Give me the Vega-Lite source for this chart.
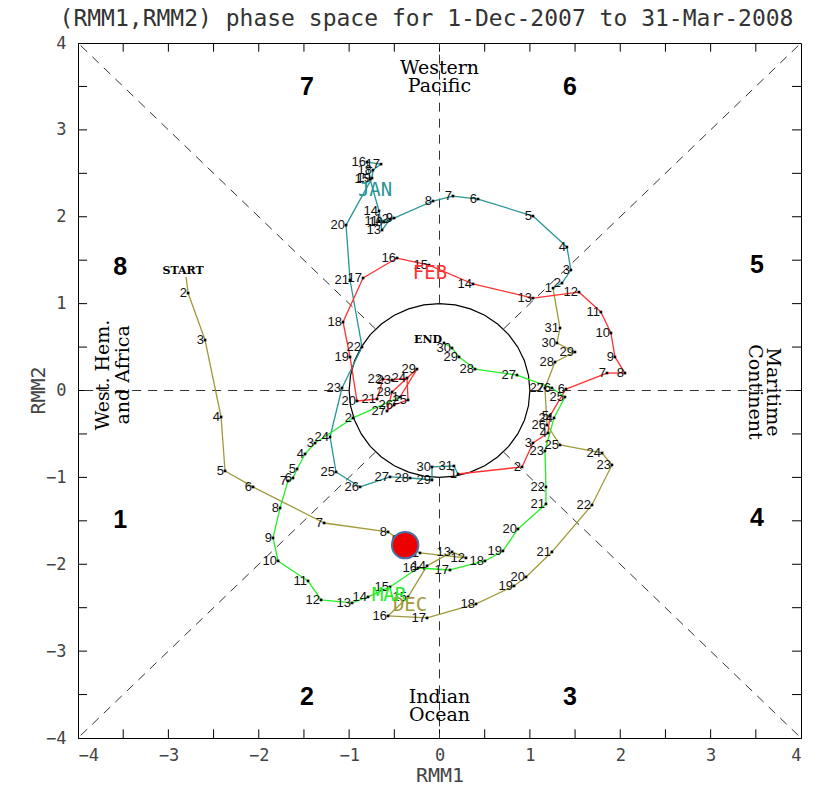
{
  "$schema": "https://vega.github.io/schema/vega-lite/v6.json",
  "width": 723,
  "height": 695,
  "autosize": "none",
  "padding": {"left": 78, "top": 43, "right": 17, "bottom": 51},
  "background": "white",
  "config": {"view": {"stroke": "black", "strokeWidth": 1}},
  "title": {"text": "(RMM1,RMM2) phase space for  1-Dec-2007 to 31-Mar-2008", "font": "DejaVu Sans Mono", "fontSize": 23, "fontWeight": "normal", "color": "#333333", "offset": 3, "dx": -13},
  "datasets": {
    "traj": [
      {"t":1,"m":"DEC","lab":"START","x":-2.804,"y":1.306},
      {"t":2,"m":"DEC","lab":"2","x":-2.782,"y":1.122},
      {"t":3,"m":"DEC","lab":"3","x":-2.594,"y":0.581},
      {"t":4,"m":"DEC","lab":"4","x":-2.417,"y":-0.305},
      {"t":5,"m":"DEC","lab":"5","x":-2.373,"y":-0.926},
      {"t":6,"m":"DEC","lab":"6","x":-2.063,"y":-1.110},
      {"t":7,"m":"DEC","lab":"7","x":-1.277,"y":-1.525},
      {"t":8,"m":"DEC","lab":"8","x":-0.570,"y":-1.628},
      {"t":9,"m":"DEC","lab":"9","x":-0.437,"y":-1.720},
      {"t":10,"m":"DEC","lab":"10","x":-0.326,"y":-1.812},
      {"t":11,"m":"DEC","lab":"11","x":-0.216,"y":-1.870},
      {"t":12,"m":"DEC","lab":"12","x":0.293,"y":-1.927},
      {"t":13,"m":"DEC","lab":"13","x":0.138,"y":-1.858},
      {"t":14,"m":"DEC","lab":"14","x":-0.138,"y":-2.019},
      {"t":15,"m":"DEC","lab":"15","x":-0.348,"y":-2.376},
      {"t":16,"m":"DEC","lab":"16","x":-0.570,"y":-2.595},
      {"t":17,"m":"DEC","lab":"17","x":-0.138,"y":-2.618},
      {"t":18,"m":"DEC","lab":"18","x":0.404,"y":-2.457},
      {"t":19,"m":"DEC","lab":"19","x":0.824,"y":-2.250},
      {"t":20,"m":"DEC","lab":"20","x":0.957,"y":-2.146},
      {"t":21,"m":"DEC","lab":"21","x":1.244,"y":-1.858},
      {"t":22,"m":"DEC","lab":"22","x":1.687,"y":-1.318},
      {"t":23,"m":"DEC","lab":"23","x":1.908,"y":-0.857},
      {"t":24,"m":"DEC","lab":"24","x":1.798,"y":-0.719},
      {"t":25,"m":"DEC","lab":"25","x":1.333,"y":-0.627},
      {"t":26,"m":"DEC","lab":"26","x":1.189,"y":-0.397},
      {"t":27,"m":"DEC","lab":"27","x":1.167,"y":0.029},
      {"t":28,"m":"DEC","lab":"28","x":1.278,"y":0.328},
      {"t":29,"m":"DEC","lab":"29","x":1.499,"y":0.443},
      {"t":30,"m":"DEC","lab":"30","x":1.300,"y":0.547},
      {"t":31,"m":"DEC","lab":"31","x":1.333,"y":0.719},
      {"t":32,"m":"JAN","lab":"1","x":1.256,"y":1.179},
      {"t":33,"m":"JAN","lab":"2","x":1.355,"y":1.237},
      {"t":34,"m":"JAN","lab":"3","x":1.454,"y":1.387},
      {"t":35,"m":"JAN","lab":"4","x":1.410,"y":1.651},
      {"t":36,"m":"JAN","lab":"5","x":1.034,"y":2.008},
      {"t":37,"m":"JAN","lab":"6","x":0.426,"y":2.204},
      {"t":38,"m":"JAN","lab":"7","x":0.149,"y":2.238},
      {"t":39,"m":"JAN","lab":"8","x":-0.072,"y":2.181},
      {"t":40,"m":"JAN","lab":"9","x":-0.503,"y":1.985},
      {"t":41,"m":"JAN","lab":"10","x":-0.614,"y":1.939},
      {"t":42,"m":"JAN","lab":"11","x":-0.669,"y":1.950},
      {"t":43,"m":"JAN","lab":"12","x":-0.548,"y":1.973},
      {"t":44,"m":"JAN","lab":"13","x":-0.636,"y":1.847},
      {"t":45,"m":"JAN","lab":"14","x":-0.669,"y":2.066},
      {"t":46,"m":"JAN","lab":"15","x":-0.769,"y":2.434},
      {"t":47,"m":"JAN","lab":"16","x":-0.802,"y":2.629},
      {"t":48,"m":"JAN","lab":"17","x":-0.647,"y":2.606},
      {"t":49,"m":"JAN","lab":"18","x":-0.736,"y":2.537},
      {"t":50,"m":"JAN","lab":"19","x":-0.747,"y":2.445},
      {"t":51,"m":"JAN","lab":"20","x":-1.034,"y":1.904},
      {"t":52,"m":"JAN","lab":"21","x":-0.990,"y":1.272},
      {"t":53,"m":"JAN","lab":"22","x":-0.857,"y":0.501},
      {"t":54,"m":"JAN","lab":"23","x":-1.079,"y":0.029},
      {"t":55,"m":"JAN","lab":"24","x":-1.211,"y":-0.535},
      {"t":56,"m":"JAN","lab":"25","x":-1.145,"y":-0.938},
      {"t":57,"m":"JAN","lab":"26","x":-0.879,"y":-1.110},
      {"t":58,"m":"JAN","lab":"27","x":-0.548,"y":-0.995},
      {"t":59,"m":"JAN","lab":"28","x":-0.326,"y":-1.007},
      {"t":60,"m":"JAN","lab":"29","x":-0.083,"y":-1.030},
      {"t":61,"m":"JAN","lab":"30","x":-0.083,"y":-0.880},
      {"t":62,"m":"JAN","lab":"31","x":0.160,"y":-0.869},
      {"t":63,"m":"FEB","lab":"1","x":0.205,"y":-0.961},
      {"t":64,"m":"FEB","lab":"2","x":0.913,"y":-0.880},
      {"t":65,"m":"FEB","lab":"3","x":1.034,"y":-0.604},
      {"t":66,"m":"FEB","lab":"4","x":1.200,"y":-0.489},
      {"t":67,"m":"FEB","lab":"5","x":1.222,"y":-0.293},
      {"t":68,"m":"FEB","lab":"6","x":1.399,"y":0.017},
      {"t":69,"m":"FEB","lab":"7","x":1.853,"y":0.201},
      {"t":70,"m":"FEB","lab":"8","x":2.052,"y":0.201},
      {"t":71,"m":"FEB","lab":"9","x":1.941,"y":0.386},
      {"t":72,"m":"FEB","lab":"10","x":1.897,"y":0.662},
      {"t":73,"m":"FEB","lab":"11","x":1.786,"y":0.903},
      {"t":74,"m":"FEB","lab":"12","x":1.543,"y":1.133},
      {"t":75,"m":"FEB","lab":"13","x":1.034,"y":1.064},
      {"t":76,"m":"FEB","lab":"14","x":0.371,"y":1.226},
      {"t":77,"m":"FEB","lab":"15","x":-0.116,"y":1.444},
      {"t":78,"m":"FEB","lab":"16","x":-0.470,"y":1.525},
      {"t":79,"m":"FEB","lab":"17","x":-0.846,"y":1.295},
      {"t":80,"m":"FEB","lab":"18","x":-1.067,"y":0.788},
      {"t":81,"m":"FEB","lab":"19","x":-0.990,"y":0.386},
      {"t":82,"m":"FEB","lab":"20","x":-0.913,"y":-0.121},
      {"t":83,"m":"FEB","lab":"21","x":-0.691,"y":-0.098},
      {"t":84,"m":"FEB","lab":"22","x":-0.625,"y":0.132},
      {"t":85,"m":"FEB","lab":"23","x":-0.525,"y":0.121},
      {"t":86,"m":"FEB","lab":"24","x":-0.360,"y":0.144},
      {"t":87,"m":"FEB","lab":"25","x":-0.348,"y":-0.109},
      {"t":88,"m":"FEB","lab":"26","x":-0.503,"y":-0.167},
      {"t":89,"m":"FEB","lab":"27","x":-0.581,"y":-0.236},
      {"t":90,"m":"FEB","lab":"28","x":-0.525,"y":-0.017},
      {"t":91,"m":"FEB","lab":"29","x":-0.249,"y":0.247},
      {"t":92,"m":"MAR","lab":"1","x":-0.437,"y":-0.075},
      {"t":93,"m":"MAR","lab":"2","x":-0.957,"y":-0.316},
      {"t":94,"m":"MAR","lab":"3","x":-1.377,"y":-0.604},
      {"t":95,"m":"MAR","lab":"4","x":-1.488,"y":-0.731},
      {"t":96,"m":"MAR","lab":"5","x":-1.576,"y":-0.903},
      {"t":97,"m":"MAR","lab":"6","x":-1.621,"y":-1.007},
      {"t":98,"m":"MAR","lab":"7","x":-1.676,"y":-1.041},
      {"t":99,"m":"MAR","lab":"8","x":-1.764,"y":-1.352},
      {"t":100,"m":"MAR","lab":"9","x":-1.842,"y":-1.697},
      {"t":101,"m":"MAR","lab":"10","x":-1.786,"y":-1.962},
      {"t":102,"m":"MAR","lab":"11","x":-1.455,"y":-2.192},
      {"t":103,"m":"MAR","lab":"12","x":-1.311,"y":-2.411},
      {"t":104,"m":"MAR","lab":"13","x":-0.968,"y":-2.445},
      {"t":105,"m":"MAR","lab":"14","x":-0.791,"y":-2.376},
      {"t":106,"m":"MAR","lab":"15","x":-0.548,"y":-2.261},
      {"t":107,"m":"MAR","lab":"16","x":-0.238,"y":-2.043},
      {"t":108,"m":"MAR","lab":"17","x":0.116,"y":-2.066},
      {"t":109,"m":"MAR","lab":"18","x":0.503,"y":-1.962},
      {"t":110,"m":"MAR","lab":"19","x":0.702,"y":-1.847},
      {"t":111,"m":"MAR","lab":"20","x":0.868,"y":-1.594},
      {"t":112,"m":"MAR","lab":"21","x":1.178,"y":-1.306},
      {"t":113,"m":"MAR","lab":"22","x":1.178,"y":-1.110},
      {"t":114,"m":"MAR","lab":"23","x":1.167,"y":-0.696},
      {"t":115,"m":"MAR","lab":"24","x":1.267,"y":-0.316},
      {"t":116,"m":"MAR","lab":"25","x":1.388,"y":-0.075},
      {"t":117,"m":"MAR","lab":"26","x":1.244,"y":0.029},
      {"t":118,"m":"MAR","lab":"27","x":0.857,"y":0.178},
      {"t":119,"m":"MAR","lab":"28","x":0.393,"y":0.247},
      {"t":120,"m":"MAR","lab":"29","x":0.216,"y":0.386},
      {"t":121,"m":"MAR","lab":"30","x":0.138,"y":0.489},
      {"t":122,"m":"MAR","lab":"END","x":0.050,"y":0.547}
    ],
    "circle": [
      {"a":0,"x":1,"y":0},{"a":10,"x":0.9848,"y":0.1736},{"a":20,"x":0.9397,"y":0.342},{"a":30,"x":0.866,"y":0.5},
      {"a":40,"x":0.766,"y":0.6428},{"a":50,"x":0.6428,"y":0.766},{"a":60,"x":0.5,"y":0.866},{"a":70,"x":0.342,"y":0.9397},
      {"a":80,"x":0.1736,"y":0.9848},{"a":90,"x":0,"y":1},{"a":100,"x":-0.1736,"y":0.9848},{"a":110,"x":-0.342,"y":0.9397},
      {"a":120,"x":-0.5,"y":0.866},{"a":130,"x":-0.6428,"y":0.766},{"a":140,"x":-0.766,"y":0.6428},{"a":150,"x":-0.866,"y":0.5},
      {"a":160,"x":-0.9397,"y":0.342},{"a":170,"x":-0.9848,"y":0.1736},{"a":180,"x":-1,"y":0},{"a":190,"x":-0.9848,"y":-0.1736},
      {"a":200,"x":-0.9397,"y":-0.342},{"a":210,"x":-0.866,"y":-0.5},{"a":220,"x":-0.766,"y":-0.6428},{"a":230,"x":-0.6428,"y":-0.766},
      {"a":240,"x":-0.5,"y":-0.866},{"a":250,"x":-0.342,"y":-0.9397},{"a":260,"x":-0.1736,"y":-0.9848},{"a":270,"x":0,"y":-1},
      {"a":280,"x":0.1736,"y":-0.9848},{"a":290,"x":0.342,"y":-0.9397},{"a":300,"x":0.5,"y":-0.866},{"a":310,"x":0.6428,"y":-0.766},
      {"a":320,"x":0.766,"y":-0.6428},{"a":330,"x":0.866,"y":-0.5},{"a":340,"x":0.9397,"y":-0.342},{"a":350,"x":0.9848,"y":-0.1736},
      {"a":360,"x":1,"y":0}
    ],
    "guides": [
      {"x":0.7071,"y":0.7071,"x2":4,"y2":4},{"x":-0.7071,"y":0.7071,"x2":-4,"y2":4},
      {"x":0.7071,"y":-0.7071,"x2":4,"y2":-4},{"x":-0.7071,"y":-0.7071,"x2":-4,"y2":-4},
      {"x":1,"y":0,"x2":4,"y2":0},{"x":-1,"y":0,"x2":-4,"y2":0},
      {"x":0,"y":1,"x2":0,"y2":4},{"x":0,"y":-1,"x2":0,"y2":-4}
    ],
    "ticks": [
      {"v":-3.5},{"v":-3},{"v":-2.5},{"v":-2},{"v":-1.5},{"v":-1},{"v":-0.5},{"v":0},
      {"v":0.5},{"v":1},{"v":1.5},{"v":2},{"v":2.5},{"v":3},{"v":3.5}
    ],
    "phases": [
      {"p":"1","x":-3.534,"y":-1.49},{"p":"2","x":-1.466,"y":-3.527},{"p":"3","x":1.444,"y":-3.527},{"p":"4","x":3.512,"y":-1.467},
      {"p":"5","x":3.512,"y":1.444},{"p":"6","x":1.444,"y":3.49},{"p":"7","x":-1.466,"y":3.49},{"p":"8","x":-3.534,"y":1.421}
    ],
    "regions": [
      {"txt":"Western","x":0,"y":3.71,"rot":"h"},{"txt":"Pacific","x":0,"y":3.5,"rot":"h"},
      {"txt":"Indian","x":0,"y":-3.527,"rot":"h"},{"txt":"Ocean","x":0,"y":-3.734,"rot":"h"},
      {"txt":"West. Hem.","x":-3.722,"y":0.18,"rot":"l"},{"txt":"and Africa","x":-3.501,"y":0.18,"rot":"l"},
      {"txt":"Maritime","x":3.689,"y":-0.017,"rot":"r"},{"txt":"Continent","x":3.49,"y":-0.017,"rot":"r"}
    ],
    "months": [
      {"m":"DEC","x":-0.326,"y":-2.474},{"m":"JAN","x":-0.713,"y":2.307},
      {"m":"FEB","x":-0.105,"y":1.352},{"m":"MAR","x":-0.558,"y":-2.353}
    ],
    "now": [{"x":-0.38,"y":-1.78}]
  },
  "layer": [
    {
      "data": {"name": "circle"},
      "mark": {"type": "line", "color": "black", "strokeWidth": 1.2},
      "encoding": {
        "x": {"field": "x", "type": "quantitative", "scale": {"domain": [-4, 4], "nice": false, "zero": false},
              "axis": {"orient": "bottom", "title": "RMM1", "values": [-4,-3,-2,-1,0,1,2,3,4], "format": "d",
                       "grid": false, "domainColor": "black", "ticks": false, "labelPadding": 9,
                       "labelFont": "DejaVu Sans Mono", "labelFontSize": 17, "labelColor": "#444444",
                       "titleFont": "DejaVu Sans Mono", "titleFontSize": 20, "titleFontWeight": "normal", "titleColor": "#444444", "titlePadding": 2}},
        "y": {"field": "y", "type": "quantitative", "scale": {"domain": [-4, 4], "nice": false, "zero": false},
              "axis": {"orient": "left", "title": "RMM2", "values": [-4,-3,-2,-1,0,1,2,3,4], "format": "d",
                       "grid": false, "domainColor": "black", "ticks": false, "labelPadding": 12,
                       "labelFont": "DejaVu Sans Mono", "labelFontSize": 17, "labelColor": "#444444",
                       "titleFont": "DejaVu Sans Mono", "titleFontSize": 20, "titleFontWeight": "normal", "titleColor": "#444444",
                       "titleX": -40, "titleY": 347, "titleAngle": 270, "titleAlign": "center", "titleBaseline": "middle"}},
        "order": {"field": "a", "type": "quantitative"}
      }
    },
    {
      "data": {"name": "ticks"},
      "mark": {"type": "rule", "color": "black", "strokeWidth": 1},
      "encoding": {
        "x": {"field": "v", "type": "quantitative"},
        "y": {"datum": -4, "type": "quantitative"},
        "y2": {"datum": -3.9}
      }
    },
    {
      "data": {"name": "ticks"},
      "mark": {"type": "rule", "color": "black", "strokeWidth": 1},
      "encoding": {
        "x": {"field": "v", "type": "quantitative"},
        "y": {"datum": 4, "type": "quantitative"},
        "y2": {"datum": 3.9}
      }
    },
    {
      "data": {"name": "ticks"},
      "mark": {"type": "rule", "color": "black", "strokeWidth": 1},
      "encoding": {
        "y": {"field": "v", "type": "quantitative"},
        "x": {"datum": -4, "type": "quantitative"},
        "x2": {"datum": -3.9}
      }
    },
    {
      "data": {"name": "ticks"},
      "mark": {"type": "rule", "color": "black", "strokeWidth": 1},
      "encoding": {
        "y": {"field": "v", "type": "quantitative"},
        "x": {"datum": 4, "type": "quantitative"},
        "x2": {"datum": 3.9}
      }
    },
    {
      "data": {"name": "guides"},
      "mark": {"type": "rule", "color": "#333333", "strokeWidth": 1, "strokeDash": [9, 7]},
      "encoding": {
        "x": {"field": "x", "type": "quantitative"},
        "y": {"field": "y", "type": "quantitative"},
        "x2": {"field": "x2"},
        "y2": {"field": "y2"}
      }
    },
    {
      "data": {"name": "traj"},
      "transform": [
        {"window": [{"op": "lead", "field": "x", "as": "xn"}, {"op": "lead", "field": "y", "as": "yn"}], "sort": [{"field": "t", "order": "ascending"}]},
        {"filter": "datum.xn != null"}
      ],
      "mark": {"type": "rule", "strokeWidth": 1.3},
      "encoding": {
        "x": {"field": "x", "type": "quantitative"},
        "y": {"field": "y", "type": "quantitative"},
        "x2": {"field": "xn"},
        "y2": {"field": "yn"},
        "color": {"field": "m", "type": "nominal", "legend": null, "scale": {"domain": ["DEC", "JAN", "FEB", "MAR"], "range": ["#9e9a3a", "#2a9494", "#ff3030", "#22ee22"]}}
      }
    },
    {
      "data": {"name": "traj"},
      "transform": [{"filter": "datum.lab != 'START'"}],
      "mark": {"type": "square", "color": "black", "filled": true, "size": 7, "opacity": 1},
      "encoding": {
        "x": {"field": "x", "type": "quantitative"},
        "y": {"field": "y", "type": "quantitative"}
      }
    },
    {
      "data": {"name": "traj"},
      "transform": [{"filter": "datum.lab != 'START' && datum.lab != 'END'"}],
      "mark": {"type": "text", "align": "right", "baseline": "middle", "dx": -1, "font": "Liberation Sans", "fontSize": 13, "color": "#111111"},
      "encoding": {
        "x": {"field": "x", "type": "quantitative"},
        "y": {"field": "y", "type": "quantitative"},
        "text": {"field": "lab"}
      }
    },
    {
      "data": {"name": "traj"},
      "transform": [{"filter": "datum.lab == 'START'"}],
      "mark": {"type": "text", "align": "center", "baseline": "bottom", "dx": -3, "dy": -1, "font": "DejaVu Serif", "fontWeight": "bold", "fontSize": 11, "color": "black"},
      "encoding": {
        "x": {"field": "x", "type": "quantitative"},
        "y": {"field": "y", "type": "quantitative"},
        "text": {"field": "lab"}
      }
    },
    {
      "data": {"name": "traj"},
      "transform": [{"filter": "datum.lab == 'END'"}],
      "mark": {"type": "text", "align": "right", "baseline": "bottom", "dx": -2, "dy": 2, "font": "DejaVu Serif", "fontWeight": "bold", "fontSize": 11, "color": "black"},
      "encoding": {
        "x": {"field": "x", "type": "quantitative"},
        "y": {"field": "y", "type": "quantitative"},
        "text": {"field": "lab"}
      }
    },
    {
      "data": {"name": "months"},
      "mark": {"type": "text", "align": "center", "baseline": "middle", "font": "DejaVu Sans Mono", "fontSize": 19},
      "encoding": {
        "x": {"field": "x", "type": "quantitative"},
        "y": {"field": "y", "type": "quantitative"},
        "text": {"field": "m"},
        "color": {"field": "m", "type": "nominal", "legend": null}
      }
    },
    {
      "data": {"name": "phases"},
      "mark": {"type": "text", "align": "center", "baseline": "middle", "font": "Liberation Sans", "fontWeight": "bold", "fontSize": 25, "color": "black"},
      "encoding": {
        "x": {"field": "x", "type": "quantitative"},
        "y": {"field": "y", "type": "quantitative"},
        "text": {"field": "p"}
      }
    },
    {
      "data": {"name": "regions"},
      "transform": [{"filter": "datum.rot == 'h'"}],
      "mark": {"type": "text", "align": "center", "baseline": "middle", "font": "DejaVu Serif", "fontSize": 19, "color": "black"},
      "encoding": {
        "x": {"field": "x", "type": "quantitative"},
        "y": {"field": "y", "type": "quantitative"},
        "text": {"field": "txt"}
      }
    },
    {
      "data": {"name": "regions"},
      "transform": [{"filter": "datum.rot == 'l'"}],
      "mark": {"type": "text", "align": "center", "baseline": "middle", "angle": 270, "font": "DejaVu Serif", "fontSize": 19, "color": "black"},
      "encoding": {
        "x": {"field": "x", "type": "quantitative"},
        "y": {"field": "y", "type": "quantitative"},
        "text": {"field": "txt"}
      }
    },
    {
      "data": {"name": "regions"},
      "transform": [{"filter": "datum.rot == 'r'"}],
      "mark": {"type": "text", "align": "center", "baseline": "middle", "angle": 90, "font": "DejaVu Serif", "fontSize": 19, "color": "black"},
      "encoding": {
        "x": {"field": "x", "type": "quantitative"},
        "y": {"field": "y", "type": "quantitative"},
        "text": {"field": "txt"}
      }
    },
    {
      "data": {"name": "now"},
      "mark": {"type": "circle", "size": 700, "fill": "#ee0000", "stroke": "#4a6fa5", "strokeWidth": 2, "opacity": 1},
      "encoding": {
        "x": {"field": "x", "type": "quantitative"},
        "y": {"field": "y", "type": "quantitative"}
      }
    }
  ]
}
